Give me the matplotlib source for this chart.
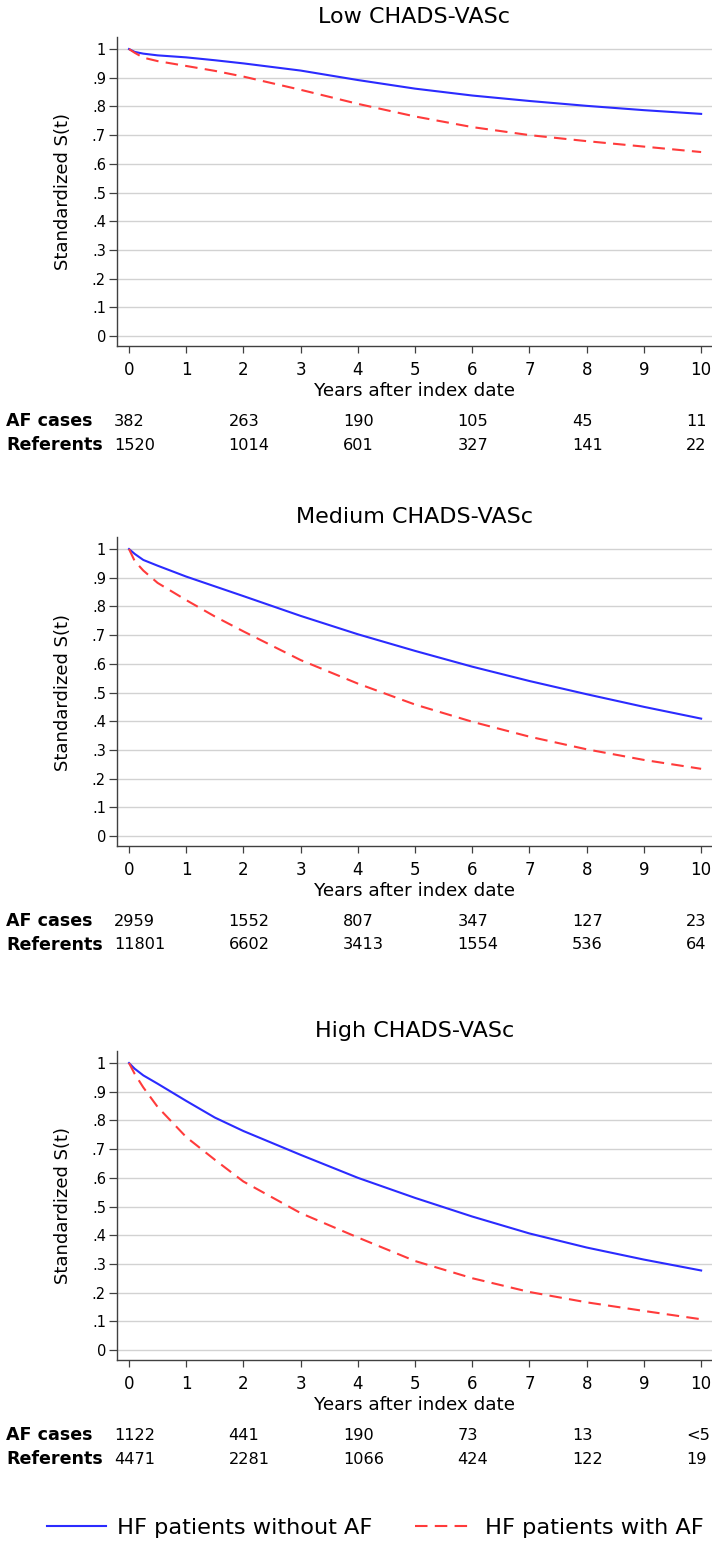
import matplotlib
matplotlib.use("Agg")
import matplotlib.pyplot as plt
import matplotlib.transforms as mtransforms

plt.rcParams['font.family'] = ['DejaVu Sans']

# ---- data ----
years = [0, 0.1, 0.25, 0.5, 1, 1.5, 2, 3, 4, 5, 6, 7, 8, 9, 10]

low_no_af = [1, 0.99, 0.984, 0.978, 0.971, 0.961, 0.95, 0.925, 0.892, 0.862, 0.838, 0.819, 0.802, 0.787, 0.774]
low_af = [1, 0.987, 0.97, 0.958, 0.941, 0.924, 0.904, 0.858, 0.809, 0.765, 0.728, 0.70, 0.679, 0.66, 0.641]

med_no_af = [1, 0.983, 0.962, 0.942, 0.904, 0.87, 0.836, 0.767, 0.703, 0.645, 0.59, 0.54, 0.494, 0.45, 0.409]
med_af = [1, 0.958, 0.925, 0.882, 0.822, 0.765, 0.713, 0.613, 0.531, 0.458, 0.398, 0.346, 0.302, 0.265, 0.234]

high_no_af = [1, 0.98, 0.957, 0.928, 0.868, 0.81, 0.763, 0.68, 0.6, 0.53, 0.465, 0.406, 0.357, 0.315, 0.277]
high_af = [1, 0.962, 0.915, 0.847, 0.742, 0.663, 0.587, 0.477, 0.392, 0.31, 0.25, 0.202, 0.166, 0.136, 0.107]

titles = ["Low CHADS-VASc", "Medium CHADS-VASc", "High CHADS-VASc"]

risk_times = [0, 2, 4, 6, 8, 10]
low_cases = ["382", "263", "190", "105", "45", "11"]
low_refs = ["1520", "1014", "601", "327", "141", "22"]
med_cases = ["2959", "1552", "807", "347", "127", "23"]
med_refs = ["11801", "6602", "3413", "1554", "536", "64"]
high_cases = ["1122", "441", "190", "73", "13", "<5"]
high_refs = ["4471", "2281", "1066", "424", "122", "19"]

yticks = [0, .1, .2, .3, .4, .5, .6, .7, .8, .9, 1]
ytick_labels = ["0", ".1", ".2", ".3", ".4", ".5", ".6", ".7", ".8", ".9", "1"]

BLUE = "#2b2bff"
RED = "#ff3b3b"
W, H = 712, 1544

fig = plt.figure(figsize=(W / 100, H / 100), dpi=100)

panels = [
    (titles[0], low_no_af, low_af, low_cases, low_refs, 37),
    (titles[1], med_no_af, med_af, med_cases, med_refs, 537),
    (titles[2], high_no_af, high_af, high_cases, high_refs, 1051),
]

ylo, yhi = -0.035, 1.042
left_px = 117
ax_h_px = 309
handles = []

for title, s_no, s_af, cases, refs, top_px in panels:
    bottom_px = top_px + ax_h_px
    ax = fig.add_axes([left_px / W, 1 - bottom_px / H, (W - left_px) / W, ax_h_px / H])
    l1, = ax.plot(years, s_no, color=BLUE, lw=1.5)
    l2, = ax.plot(years, s_af, color=RED, lw=1.5, linestyle=(0, (6, 3.5)))
    if not handles:
        handles = [l1, l2]
    ax.set_xlim(-0.21, 10.19)
    ax.set_ylim(ylo, yhi)
    ax.set_yticks(yticks)
    ax.set_yticklabels(ytick_labels)
    ax.set_xticks(range(0, 11))
    ax.grid(axis='y', color='#d2d2d2', lw=1.0)
    ax.set_axisbelow(True)
    for sp in ['top', 'right']:
        ax.spines[sp].set_visible(False)
    for sp in ['left', 'bottom']:
        ax.spines[sp].set_color('#404040')
        ax.spines[sp].set_linewidth(1.0)
    ax.tick_params(axis='y', length=6, width=0.9, color='#404040', labelsize=10.5, pad=2)
    ax.tick_params(axis='x', length=5, width=0.9, color='#404040', labelsize=12, pad=6)
    ax.set_xlabel("Years after index date", fontsize=13.2, labelpad=2)
    ax.set_title(title, fontsize=16, pad=10)
    fig.text(63 / W, 1 - (top_px + 12 + 143) / H, "Standardized S(t)", rotation=90,
             fontsize=13, ha='center', va='center')

    # risk table under each panel
    tr = mtransforms.blended_transform_factory(ax.transData, fig.transFigure)
    row1 = 1 - (bottom_px + 75) / H
    row2 = 1 - (bottom_px + 99) / H
    fig.text(6 / W, row1, "AF cases", fontsize=12.6, fontweight='bold', va='center')
    fig.text(6 / W, row2, "Referents", fontsize=12.6, fontweight='bold', va='center')
    for t, c, r in zip(risk_times, cases, refs):
        ax.text(t - 0.26, row1, c, transform=tr, fontsize=11.6, va='center', ha='left')
        ax.text(t - 0.26, row2, r, transform=tr, fontsize=11.6, va='center', ha='left')

fig.legend(handles, ["HF patients without AF", "HF patients with AF"],
           loc='center', bbox_to_anchor=(0.527, 1 - 1528 / H), ncol=2, frameon=False,
           fontsize=16.2, handlelength=2.6, handletextpad=0.5, columnspacing=1.9)

fig.savefig("out.png", dpi=100, facecolor='white')
